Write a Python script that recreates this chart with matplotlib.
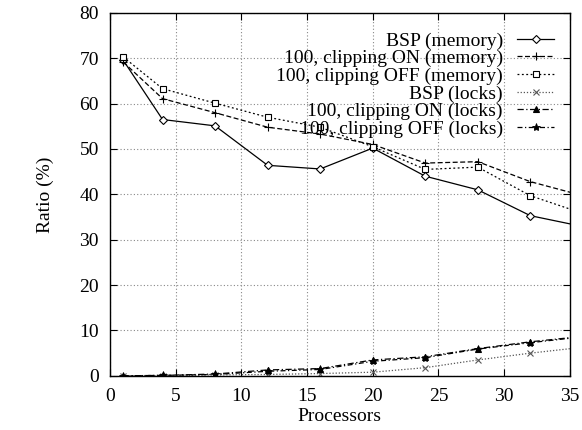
import numpy as np
import matplotlib.pyplot as plt

plt.rcParams['font.family'] = ['Liberation Serif', 'DejaVu Serif']

# processors (last point lies past the axis and gets clipped)
procs = [1, 4, 8, 12, 16, 20, 24, 28, 32, 36]

bsp_mem = [69.6, 56.5, 55.1, 46.4, 45.6, 50.2, 44.0, 41.0, 35.3, 32.9]
on_mem = [69.2, 61.1, 58.0, 54.8, 53.3, 51.0, 46.9, 47.2, 42.8, 39.7]
off_mem = [70.3, 63.3, 60.1, 57.0, 54.8, 50.5, 45.5, 46.0, 39.7, 35.8]
bsp_lck = [0.0, 0.0, 0.2, 0.3, 0.5, 0.8, 1.8, 3.5, 5.0, 6.3]
on_lck = [0.0, 0.1, 0.4, 1.3, 1.6, 3.5, 4.2, 6.0, 7.5, 8.7]
off_lck = [0.0, 0.1, 0.3, 1.0, 1.4, 3.2, 4.0, 5.9, 7.3, 8.6]

labels = ["BSP (memory)", "100, clipping ON (memory)", "100, clipping OFF (memory)",
          "BSP (locks)", "100, clipping ON (locks)", "100, clipping OFF (locks)"]

fig = plt.figure(figsize=(5.82, 4.3), dpi=100)
ax = fig.add_axes([0.189, 0.126, 0.790, 0.844])

ax.plot(procs, bsp_mem, color="black", lw=0.9, ls="-", marker="D", ms=4,
        mfc="white", mew=0.8, label=labels[0])
ax.plot(procs, on_mem, color="black", lw=0.9, ls=(0, (4, 2)), marker="+", ms=6,
        mew=0.8, label=labels[1])
ax.plot(procs, off_mem, color="black", lw=0.9, ls=(0, (1.5, 2)), marker="s", ms=5,
        mfc="white", mew=0.8, label=labels[2])
ax.plot(procs, bsp_lck, color="#555555", lw=0.9, ls=(0, (1, 1.5)), marker="x", ms=5,
        mew=0.8, label=labels[3])
ax.plot(procs, on_lck, color="black", lw=0.9, ls=(0, (5, 2, 1, 2)), marker="^", ms=4,
        mew=0.8, label=labels[4])
ax.plot(procs, off_lck, color="black", lw=0.9, ls=(0, (4, 2, 1, 2)), marker="*", ms=6,
        mew=0.6, label=labels[5])

ax.set_xlim(0, 35)
ax.set_ylim(0, 80)
ax.set_xticks(np.arange(0, 36, 5))
ax.set_yticks(np.arange(0, 81, 10))
ax.tick_params(direction="in", top=True, right=True, labelsize=14, length=5)
ax.tick_params(axis="x", pad=9)
ax.tick_params(axis="y", pad=8)
ax.grid(True, color="#888888", ls=(0, (1, 2)), lw=0.8)
for s in ax.spines.values():
    s.set_linewidth(1.0)

ax.set_xlabel("Processors", fontsize=14, labelpad=2)
ax.set_ylabel("Ratio (%)", fontsize=14, labelpad=18)

leg = ax.legend(loc="upper right", bbox_to_anchor=(0.996, 0.985), markerfirst=False,
                frameon=False, fontsize=14, labelspacing=0.0, handlelength=1.9,
                handletextpad=0.75, borderaxespad=0.3)

fig.savefig("out.png", dpi=100)
